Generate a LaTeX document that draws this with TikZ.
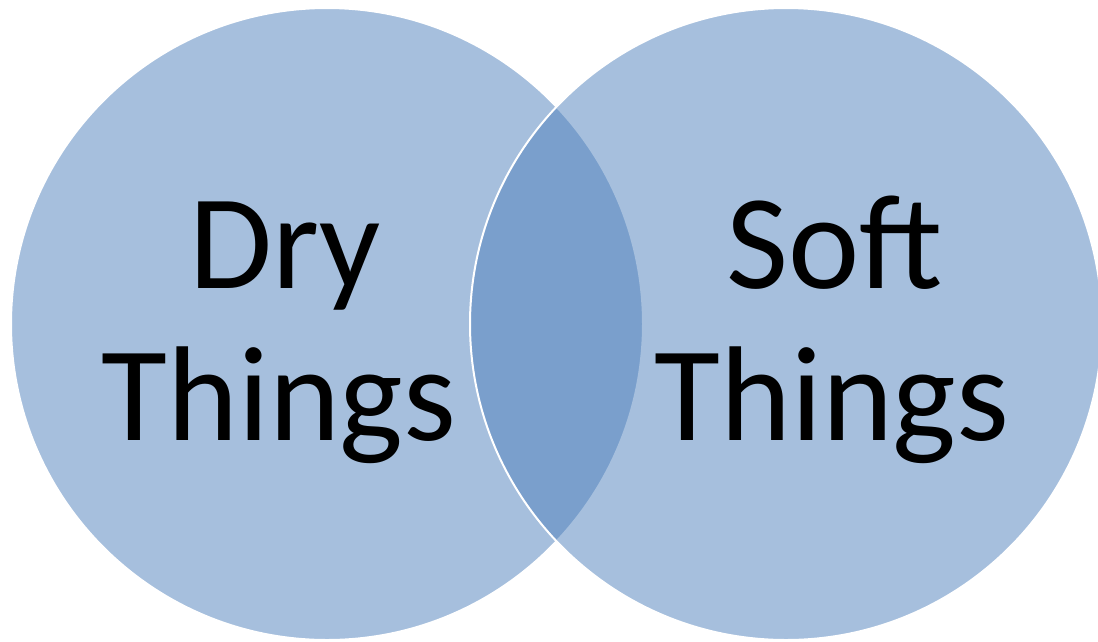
\documentclass[tikz,border=0pt]{standalone}
\usepackage{fontspec}
\setmainfont{Carlito}
\begin{document}
\begin{tikzpicture}[x=1pt,y=-1pt,
  setcircle/.style={circle, minimum size=632pt, inner sep=0pt, fill={rgb,255:red,79;green,129;blue,189}, fill opacity=0.5, draw=white, line width=2pt},
  biglabel/.style={anchor=base, inner sep=0pt, font=\fontsize{135}{152}\selectfont, text=black}]
\useasboundingbox (0,0) rectangle (1098,641);
\fill[white] (0,0) rectangle (1098,641);
\node[setcircle] (left) at (327,324) {};
\node[setcircle] (right) at (786,324) {};
\node[biglabel] (dry1) at (285,288) {Dry};
\node[biglabel] (dry2) at (279,440) {Things};
\node[biglabel] (soft1) at (835,288) {Soft};
\node[biglabel] (soft2) at (832,440) {Things};
\end{tikzpicture}
\end{document}
